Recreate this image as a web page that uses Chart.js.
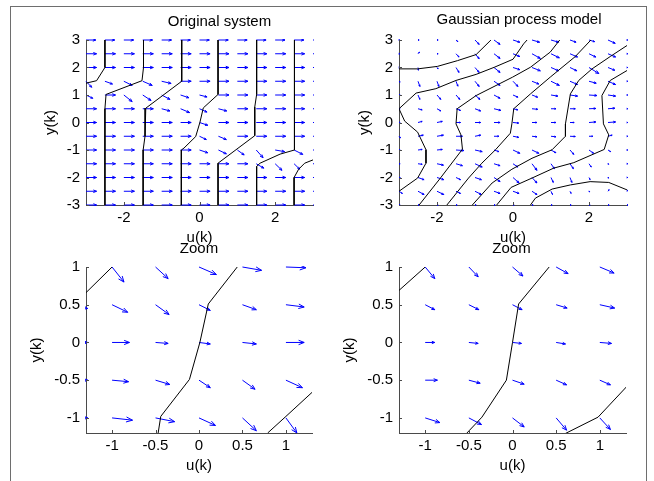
<!DOCTYPE html>
<html>
<head>
<meta charset="utf-8">
<title>Original system / Gaussian process model</title>
<script src="https://cdn.jsdelivr.net/npm/chart.js@4.4.1/dist/chart.umd.min.js"></script>
<style>
  html, body { margin: 0; padding: 0; overflow: hidden; background: #fff; }
  #frame { position: absolute; left: 10px; top: 6px; width: 635px; height: 490px; border: 1px solid #6e6e6e; }
  canvas { position: absolute; }
</style>
</head>
<body>
<div id="frame"></div>
<canvas id="sysChart" width="316" height="241" style="left:11px;top:7px"></canvas>
<canvas id="gpChart" width="318" height="241" style="left:327px;top:7px"></canvas>
<canvas id="sysZoomChart" width="316" height="240" style="left:11px;top:240px"></canvas>
<canvas id="gpZoomChart" width="318" height="240" style="left:327px;top:240px"></canvas>
<script>
// grids and ticks
const uTop = [-3, -2.5, -2, -1.5, -1, -0.5, 0, 0.5, 1, 1.5, 2, 2.5, 3];
const yTop = [3, 2.5, 2, 1.5, 1, 0.5, 0, -0.5, -1, -1.5, -2, -2.5, -3];
const xTicksTop = [-2, 0, 2];
const yTicksTop = [-3, -2, -1, 0, 1, 2, 3];

const uZoomSys = [-1.5, -1, -0.5, 0, 0.5, 1];
const uZoomGp = [-1, -0.5, 0, 0.5, 1];
const yZoom = [1, 0.5, 0, -0.5, -1];
const xTicksZoom = [-1, -0.5, 0, 0.5, 1];
const yTicksZoom = [-1, -0.5, 0, 0.5, 1];

// arrow components, rows follow yTop (3 -> -3), columns follow uTop
const sysDu = [
  [0.26, 0.26, 0.26, 0.26, 0.26, 0.26, 0.26, 0.26, 0.26, 0.26, 0.26, 0.26, 0.26],
  [0.28, 0.28, 0.28, 0.28, 0.28, 0.28, 0.28, 0.28, 0.28, 0.28, 0.28, 0.28, 0.28],
  [0.28, 0.28, 0.28, 0.28, 0.28, 0.28, 0.28, 0.28, 0.28, 0.28, 0.28, 0.28, 0.28],
  [0.15, 0.2, 0.22, 0.25, 0.25, 0.28, 0.28, 0.28, 0.28, 0.28, 0.28, 0.28, 0.28],
  [0.18, 0.28, 0.22, 0.22, 0.22, 0.22, 0.2, 0.28, 0.28, 0.28, 0.28, 0.28, 0.28],
  [0.28, 0.28, 0.28, 0.28, 0.22, 0.24, 0.2, 0.22, 0.28, 0.28, 0.28, 0.28, 0.28],
  [0.28, 0.28, 0.28, 0.28, 0.28, 0.28, 0.22, 0.28, 0.28, 0.28, 0.28, 0.28, 0.28],
  [0.28, 0.28, 0.28, 0.28, 0.28, 0.28, 0.18, 0.21, 0.28, 0.28, 0.28, 0.28, 0.28],
  [0.28, 0.28, 0.28, 0.28, 0.28, 0.28, 0.22, 0.21, 0.18, 0.18, 0.25, 0.23, 0.28],
  [0.28, 0.28, 0.28, 0.28, 0.28, 0.28, 0.28, 0.28, 0.28, 0.2, 0.18, 0.15, 0.28],
  [0.28, 0.28, 0.28, 0.28, 0.28, 0.28, 0.28, 0.28, 0.28, 0.28, 0.28, 0.28, 0.28],
  [0.28, 0.28, 0.28, 0.28, 0.28, 0.28, 0.28, 0.28, 0.28, 0.28, 0.28, 0.28, 0.28],
  [0.28, 0.28, 0.28, 0.28, 0.28, 0.28, 0.28, 0.28, 0.28, 0.28, 0.28, 0.28, 0.28]
];
const sysDv = [
  [0, 0, 0, 0, 0, 0, 0, 0, 0, 0, 0, 0, 0],
  [0, 0, 0, 0, 0, 0, 0, 0, 0, 0, 0, 0, 0],
  [0, 0, 0, 0, 0, 0, 0, 0, 0, 0, 0, 0, 0],
  [-0.22, -0.1, -0.15, -0.15, -0.08, 0, 0, 0, 0, 0, 0, 0, 0],
  [-0.12, 0, -0.24, -0.2, -0.16, -0.1, -0.07, 0, 0, 0, 0, 0, 0],
  [0, 0, 0, 0, -0.08, -0.14, -0.12, -0.08, 0, 0, 0, 0, 0],
  [0, 0, 0, 0, 0, 0, -0.1, 0, 0, 0, 0, 0, 0],
  [0, 0, 0, 0, 0, 0, -0.12, -0.12, 0, 0, 0, 0, 0],
  [0, 0, 0, 0, 0, 0, -0.1, -0.14, -0.18, -0.28, -0.06, -0.16, 0],
  [0, 0, 0, 0, 0, 0, 0, 0, 0, -0.16, -0.24, -0.2, 0],
  [0, 0, 0, 0, 0, 0, 0, 0, 0, 0, 0, 0, 0],
  [0, 0, 0, 0, 0, 0, 0, 0, 0, 0, 0, 0, 0],
  [0, 0, 0, 0, 0, 0, 0, 0, 0, 0, 0, 0, 0]
];

const gpDu = [
  [0.02, 0.03, 0.03, 0.05, 0.11, 0.16, 0.18, 0.2, 0.2, 0.16, 0.15, 0.19, 0.02],
  [0.02, 0.04, 0.03, 0.08, 0.11, 0.16, 0.18, 0.22, 0.22, 0.2, 0.18, 0.2, 0.02],
  [0.02, 0.01, 0.03, 0.08, 0.11, 0.16, 0.18, 0.22, 0.2, 0.18, 0.26, 0.18, 0.02],
  [0.03, 0.05, 0.05, 0.05, 0.11, 0.16, 0.13, 0.18, 0.22, 0.2, 0.19, 0.2, 0.02],
  [0.03, 0.05, 0.1, 0.1, 0.13, 0.16, 0.13, 0.15, 0.18, 0.2, 0.21, 0.2, 0.02],
  [0.03, 0.11, 0.1, 0.12, 0.15, 0.18, 0.13, 0.15, 0.13, 0.14, 0.18, 0.18, 0.02],
  [0.03, 0.11, 0.14, 0.12, 0.15, 0.16, 0.15, 0.13, 0.13, 0.11, 0.18, 0.2, 0.02],
  [0.04, 0.14, 0.17, 0.17, 0.15, 0.13, 0.15, 0.13, 0.13, 0.14, 0.1, 0.11, 0.02],
  [0.03, 0.11, 0.14, 0.21, 0.19, 0.13, 0.18, 0.18, 0.13, 0.1, 0.12, 0.07, 0.02],
  [0.03, 0.11, 0.17, 0.17, 0.19, 0.16, 0.13, 0.13, 0.09, 0.09, 0.06, 0.02, 0.02],
  [0.04, 0.16, 0.18, 0.12, 0.17, 0.16, 0.16, 0.13, 0.06, 0.05, 0.03, 0.02, 0.02],
  [0.09, 0.16, 0.18, 0.12, 0.17, 0.16, 0.16, 0.13, 0.04, 0.03, 0.02, 0.03, 0.02],
  [0.03, 0.03, 0.03, 0.03, 0.03, 0.03, 0.03, 0.03, 0.03, 0.03, 0.03, 0.03, 0.03]
];
const gpDv = [
  [0, 0, 0, -0.06, -0.16, -0.16, -0.08, -0.08, -0.08, -0.08, -0.06, -0.12, 0],
  [0, 0.06, 0, -0.12, -0.18, -0.17, -0.1, -0.17, -0.15, -0.12, -0.12, -0.12, 0],
  [0, -0.1, -0.05, -0.18, -0.18, -0.18, -0.08, -0.12, -0.12, -0.12, -0.22, -0.1, 0],
  [-0.03, -0.19, -0.19, -0.18, -0.19, -0.15, -0.19, -0.1, -0.15, -0.12, -0.07, -0.12, 0],
  [0, -0.16, -0.16, -0.16, -0.16, -0.12, -0.08, -0.08, -0.04, -0.04, -0.02, -0.04, 0],
  [0, -0.04, -0.08, -0.06, -0.08, -0.06, -0.04, -0.02, 0, 0, 0.01, 0.02, 0],
  [0, 0.04, 0.04, 0, 0, 0, -0.02, 0, 0, 0, 0.02, 0.02, 0],
  [-0.06, 0.04, 0.04, 0, 0.04, 0, -0.04, -0.02, -0.02, -0.01, 0, 0.04, 0],
  [0, 0.02, 0.02, -0.02, -0.06, -0.06, -0.12, -0.12, -0.1, -0.16, -0.12, -0.06, 0],
  [0, -0.02, -0.05, -0.07, -0.12, -0.07, -0.12, -0.24, -0.18, -0.18, -0.12, -0.02, 0],
  [-0.02, -0.08, -0.08, -0.08, -0.08, -0.15, -0.2, -0.2, -0.18, -0.18, -0.08, -0.02, 0],
  [-0.08, -0.12, -0.12, -0.08, -0.12, -0.08, -0.08, -0.12, -0.12, -0.08, -0.02, 0.06, 0.04],
  [0, 0, 0, 0, 0, 0, 0, 0, 0, 0, 0, 0, 0]
];

// zoom arrows, rows follow yZoom (1 -> -1)
const sysZoomDu = [
  [0.18, 0.137, 0.145, 0.2, 0.22, 0.23],
  [0.22, 0.18, 0.156, 0.13, 0.16, 0.21],
  [0.22, 0.2, 0.145, 0.13, 0.16, 0.21],
  [0.22, 0.19, 0.164, 0.13, 0.145, 0.19],
  [0.22, 0.235, 0.22, 0.19, 0.16, 0.126]
];
const sysZoomDv = [
  [0, -0.2, -0.154, -0.1, -0.044, -0.01],
  [-0.05, -0.1, -0.13, -0.075, -0.066, -0.03],
  [0, 0, -0.013, -0.02, -0.02, 0],
  [0, -0.02, -0.057, -0.1, -0.12, -0.1],
  [0, -0.03, -0.05, -0.1, -0.17, -0.2]
];
const gpZoomDu = [
  [0.11, 0.107, 0.12, 0.137, 0.164],
  [0.11, 0.115, 0.11, 0.126, 0.17],
  [0.11, 0.107, 0.103, 0.107, 0.134],
  [0.14, 0.13, 0.134, 0.12, 0.122],
  [0.168, 0.145, 0.134, 0.12, 0.122]
];
const gpZoomDv = [
  [-0.154, -0.13, -0.12, -0.088, -0.08],
  [-0.066, -0.066, -0.066, -0.044, -0.044],
  [0, -0.013, -0.013, -0.02, -0.013],
  [0, -0.04, -0.053, -0.062, -0.062],
  [-0.062, -0.088, -0.12, -0.163, -0.154]
];

// contour lines [u, y]
const sysC1 = [[-2.5, 3], [-2.5, 2], [-2.72, 1.52], [-3, 1.43]];
const sysC2 = [[-1.48, 3], [-1.48, 2], [-1.52, 1.52], [-2.47, 1.02], [-2.5, 0.5], [-2.5, -3]];
const sysC3 = [[-0.47, 3], [-0.47, 1.5], [-1.42, 0.52], [-1.44, -0.5], [-1.49, -1], [-1.49, -3]];
const sysC4 = [[0.49, 3], [0.49, 1.02], [0.1, 0.53], [0.01, 0], [-0.1, -0.51], [-0.41, -0.93], [-0.48, -1], [-0.48, -3]];
const sysC5 = [[1.51, 3], [1.51, 1.02], [1.46, 0.56], [1.46, -0.48], [0.49, -1.48], [0.49, -3]];
const sysC6 = [[2.51, 3], [2.51, -1], [2.13, -1.15], [1.6, -1.48], [1.51, -1.6], [1.51, -3]];
const sysC7 = [[3, -1.36], [2.78, -1.48], [2.62, -1.7], [2.5, -2], [2.5, -3]];

const gpC1 = [[-3, 1.95], [-2.51, 1.95], [-1.99, 2.04], [-1.46, 2.25], [-0.97, 2.47], [-0.58, 3]];
const gpC2 = [[-3, 0.5], [-2.55, 1.07], [-2.03, 1.23], [-1.5, 1.53], [-0.97, 1.75], [-0.49, 2.01], [0, 2.3], [0.28, 2.86], [0.37, 3]];
const gpC3 = [[-3, 0.5], [-2.85, 0.05], [-2.51, -0.35], [-2.29, -0.99], [-2.29, -1.48], [-2.51, -2.02], [-3, -2.5]];
const gpC4 = [[1.23, 3], [0.98, 2.56], [0.46, 2.01], [-0.01, 1.65], [-0.97, 0.98], [-1.47, 0.5], [-1.5, -0.05], [-1.37, -0.45], [-1.33, -0.97], [-1.91, -2.02], [-2.47, -3]];
const gpC5 = [[2.05, 3], [1.64, 2.4], [0.98, 1.65], [0.46, 1.04], [0.02, 0.5], [-0.03, -0.05], [-0.07, -0.39], [-0.46, -0.99], [-0.82, -1.48], [-1.17, -2.02], [-1.74, -3]];
const gpC6 = [[3, 2.8], [2.56, 2.4], [2.08, 1.95], [1.73, 1.53], [1.51, 1.04], [1.38, -0.05], [1.38, -0.5], [1.03, -0.99], [0.5, -1.3], [-0.03, -1.7], [-0.55, -2.2], [-1.07, -3]];
const gpC7 = [[3, 1.89], [2.56, 1.53], [2.34, 0.98], [2.38, -0.05], [2.52, -0.45], [2.4, -0.98], [1.6, -1.46], [1.07, -1.66], [0.5, -2.02], [-0.05, -2.36], [-0.43, -3]];
const gpC8 = [[0.46, -3], [0.59, -2.75], [1.03, -2.42], [1.51, -2.27], [2.03, -2.15], [2.52, -2.18], [3, -2.45]];

const sysZoomC1 = [[-1.3, 0.66], [-1, 1]];
const sysZoomC2 = [[0.44, 1], [0.107, 0.51], [0.01, 0], [-0.11, -0.49], [-0.44, -0.98], [-0.47, -1.2]];
const sysZoomC3 = [[0.79, -1.2], [1, -0.98], [1.33, -0.63]];

const gpZoomC1 = [[-1.3, 0.69], [-1, 1]];
const gpZoomC2 = [[0.42, 1], [0.07, 0.51], [0, 0], [-0.07, -0.5], [-0.35, -0.99], [-0.53, -1.21]];
const gpZoomC3 = [[0.6, -1.21], [0.98, -0.99], [1.32, -0.57]];

const fontFamily = "'Liberation Sans', Arial, Helvetica, sans-serif";
const axisColor = '#4a4a4a';
Chart.defaults.font.family = fontFamily;
Chart.defaults.font.size = 15;
Chart.defaults.color = '#000';

// per canvas settings
const panels = {
  sysChart: {
    title: 'Original system', titleDx: 20, titleDy: -18,
    uGrid: uTop, yGrid: yTop, du: sysDu, dv: sysDv,
    contours: [sysC1, sysC2, sysC3, sysC4, sysC5, sysC6, sysC7],
    xMin: -3, xMax: 3, yMin: -3, yMax: 3, xTicks: xTicksTop, yTicks: yTicksTop,
    pad: { left: 0, top: 33, right: 14, bottom: 1 }, yWidth: 75, yTitlePad: 31
  },
  gpChart: {
    title: 'Gaussian process model', titleDx: 6, titleDy: -20,
    uGrid: uTop, yGrid: yTop, du: gpDu, dv: gpDv,
    contours: [gpC1, gpC2, gpC3, gpC4, gpC5, gpC6, gpC7, gpC8],
    xMin: -3, xMax: 3, yMin: -3, yMax: 3, xTicks: xTicksTop, yTicks: yTicksTop,
    pad: { left: 0, top: 33, right: 18, bottom: 1 }, yWidth: 72, yTitlePad: 29
  },
  sysZoomChart: {
    title: 'Zoom', titleDx: 0, titleDy: -18,
    uGrid: uZoomSys, yGrid: yZoom, du: sysZoomDu, dv: sysZoomDv,
    contours: [sysZoomC1, sysZoomC2, sysZoomC3],
    xMin: -1.3, xMax: 1.3, yMin: -1.2, yMax: 1, xTicks: xTicksZoom, yTicks: yTicksZoom,
    pad: { left: 0, top: 27, right: 15, bottom: 5 }, yWidth: 75, yTitlePad: 17
  },
  gpZoomChart: {
    title: 'Zoom', titleDx: -1, titleDy: -18,
    uGrid: uZoomGp, yGrid: yZoom, du: gpZoomDu, dv: gpZoomDv,
    contours: [gpZoomC1, gpZoomC2, gpZoomC3],
    xMin: -1.3, xMax: 1.3, yMin: -1.2, yMax: 1, xTicks: xTicksZoom, yTicks: yTicksZoom,
    pad: { left: 0, top: 27, right: 19, bottom: 5 }, yWidth: 72, yTitlePad: 14
  }
};

// quiver arrows, inward ticks and panel title
const panelPlugin = {
  id: 'panel',
  beforeDatasetsDraw(chart) {
    const p = panels[chart.canvas.id];
    const { ctx, chartArea: a } = chart;
    const xs = chart.scales.x, ys = chart.scales.y;
    ctx.save();
    ctx.beginPath();
    ctx.rect(a.left - 1, a.top - 1, a.right - a.left + 2, a.bottom - a.top + 2);
    ctx.clip();
    ctx.strokeStyle = '#0000ff';
    ctx.lineWidth = 1;
    p.yGrid.forEach((yv, i) => {
      p.uGrid.forEach((uv, j) => {
        const x0 = xs.getPixelForValue(uv);
        const y0 = ys.getPixelForValue(yv);
        const x1 = xs.getPixelForValue(uv + p.du[i][j]);
        const y1 = ys.getPixelForValue(yv + p.dv[i][j]);
        const ang = Math.atan2(y1 - y0, x1 - x0);
        const len = Math.hypot(x1 - x0, y1 - y0);
        const h = Math.max(len * 0.33, 1.2);
        ctx.beginPath();
        ctx.moveTo(x0, y0);
        ctx.lineTo(x1, y1);
        ctx.moveTo(x1 - h * Math.cos(ang - 0.38), y1 - h * Math.sin(ang - 0.38));
        ctx.lineTo(x1, y1);
        ctx.lineTo(x1 - h * Math.cos(ang + 0.38), y1 - h * Math.sin(ang + 0.38));
        ctx.stroke();
      });
    });
    ctx.restore();
  },
  afterDraw(chart) {
    const p = panels[chart.canvas.id];
    const { ctx, chartArea: a } = chart;
    const xs = chart.scales.x, ys = chart.scales.y;
    ctx.save();
    ctx.strokeStyle = axisColor;
    ctx.lineWidth = 1;
    ctx.beginPath();
    p.xTicks.forEach(v => {
      const px = Math.round(xs.getPixelForValue(v)) + 0.5;
      ctx.moveTo(px, a.bottom);
      ctx.lineTo(px, a.bottom - 3);
    });
    p.yTicks.forEach(v => {
      const py = Math.round(ys.getPixelForValue(v)) + 0.5;
      ctx.moveTo(a.left, py);
      ctx.lineTo(a.left + 3, py);
    });
    ctx.stroke();
    ctx.fillStyle = '#000';
    ctx.font = '15px ' + fontFamily;
    ctx.textAlign = 'center';
    ctx.textBaseline = 'middle';
    ctx.fillText(p.title, (a.left + a.right) / 2 + p.titleDx, a.top + p.titleDy);
    ctx.restore();
  }
};

function makePanel(id) {
  const p = panels[id];
  return new Chart(document.getElementById(id), {
    type: 'scatter',
    data: {
      datasets: p.contours.map(c => ({
        data: c.map(pt => ({ x: pt[0], y: pt[1] })),
        showLine: true,
        borderColor: '#000',
        borderWidth: 1,
        pointRadius: 0,
        tension: 0
      }))
    },
    options: {
      responsive: false,
      animation: false,
      devicePixelRatio: 1,
      events: [],
      layout: { padding: p.pad },
      plugins: { legend: { display: false }, tooltip: { enabled: false }, title: { display: false } },
      scales: {
        x: {
          type: 'linear', min: p.xMin, max: p.xMax,
          afterBuildTicks: s => { s.ticks = p.xTicks.map(v => ({ value: v })); },
          afterFit: s => { s.height = 42; },
          grid: { display: false, drawTicks: false },
          border: { display: true, color: axisColor, width: 1 },
          ticks: { padding: 4, maxRotation: 0, autoSkip: false, color: '#000', callback: v => String(v) },
          title: { display: true, text: 'u(k)', color: '#000', padding: { top: 0, bottom: 0 } }
        },
        y: {
          type: 'linear', min: p.yMin, max: p.yMax,
          afterBuildTicks: s => { s.ticks = p.yTicks.map(v => ({ value: v })); },
          afterFit: s => { s.width = p.yWidth; },
          grid: { display: false, drawTicks: false },
          border: { display: true, color: axisColor, width: 1 },
          ticks: { padding: 6, autoSkip: false, color: '#000', callback: v => String(v) },
          title: { display: true, text: 'y(k)', color: '#000', padding: { top: p.yTitlePad, bottom: 0 } }
        }
      }
    },
    plugins: [panelPlugin]
  });
}

makePanel('sysChart');
makePanel('gpChart');
makePanel('sysZoomChart');
makePanel('gpZoomChart');
</script>
</body>
</html>
